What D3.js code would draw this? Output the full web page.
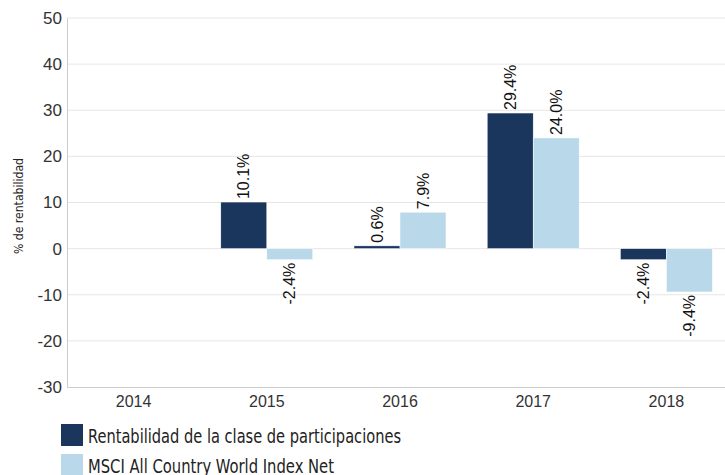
<!DOCTYPE html>
<html lang="es">
<head>
    <meta charset="UTF-8">
    <title>Rentabilidad</title>
    <script src="https://cdn.jsdelivr.net/npm/d3@7/dist/d3.min.js"></script>
    <style>
        body { margin: 0; background: #fff; }
        svg { display: block; }
    </style>
</head>
<body>
<script>
    // datos
    let years = ['2014', '2015', '2016', '2017', '2018'];
    let fund = [null, 10.1, 0.6, 29.4, -2.4];
    let index = [null, -2.4, 7.9, 24.0, -9.4];
    let yTicks = [-30, -20, -10, 0, 10, 20, 30, 40, 50];
    let seriesNames = ['Rentabilidad de la clase de participaciones', 'MSCI All Country World Index Net'];
    let colors = ['#1b365d', '#b9d9eb'];

    let width = 725, height = 475;
    let mLeft = 67, mRight = 733, mTop = 18, mBottom = 387;
    let legendWidths = [313, 246];
    let armo = 'Liberation Sans, Arial, sans-serif';
    let narrow = 'DejaVu Sans Condensed, Liberation Sans Narrow, sans-serif';

    let svg = d3.select('body').append('svg')
        .attr('width', width)
        .attr('height', height);

    let x = d3.scaleBand().domain(years).range([mLeft, mRight]);
    let x1 = d3.scaleBand().domain([0, 1]).range([0, 92]);
    let y = d3.scaleLinear().domain([-30, 50]).range([mBottom, mTop]);

    // rejilla
    svg.append('g').selectAll('line')
        .data(yTicks.filter(d => d !== -30))
        .enter().append('line')
        .attr('x1', mLeft).attr('x2', width)
        .attr('y1', d => y(d)).attr('y2', d => y(d))
        .attr('stroke', '#e6e6e6');

    // ejes
    let yAxis = svg.append('g')
        .attr('transform', 'translate(' + mLeft + ',0)')
        .call(d3.axisLeft(y).tickValues(yTicks).tickFormat(d => String(d)).tickSize(0).tickPadding(5));
    yAxis.select('.domain').attr('stroke', '#ccc');
    yAxis.selectAll('text')
        .attr('font-family', armo)
        .attr('font-size', 17).attr('fill', '#333');

    let xAxis = svg.append('g')
        .attr('transform', 'translate(0,' + mBottom + ')')
        .call(d3.axisBottom(x).tickSize(0).tickPadding(9));
    xAxis.select('.domain').attr('stroke', '#ccc');
    xAxis.selectAll('text')
        .attr('font-family', armo)
        .attr('font-size', 16).attr('fill', '#333');

    svg.append('text')
        .attr('transform', 'translate(23,206) rotate(-90)')
        .attr('text-anchor', 'middle')
        .attr('font-family', narrow)
        .attr('font-size', 12)
        .attr('fill', '#222')
        .attr('textLength', 96)
        .attr('lengthAdjust', 'spacingAndGlyphs')
        .text('% de rentabilidad');

    // barras
    let rows = [];
    years.forEach(function (yr, i) {
        [fund[i], index[i]].forEach(function (v, s) {
            if (v !== null) rows.push({ year: yr, s: s, v: v });
        });
    });

    let bx = d => x(d.year) + x.bandwidth() / 2 - 46 + x1(d.s);

    svg.append('g').selectAll('rect')
        .data(rows)
        .enter().append('rect')
        .attr('x', bx)
        .attr('y', d => y(Math.max(0, d.v)))
        .attr('width', x1.bandwidth())
        .attr('height', d => Math.abs(y(d.v) - y(0)))
        .attr('fill', d => colors[d.s])
        .attr('stroke', '#fff')
        .attr('stroke-width', 0.5);

    svg.append('g').selectAll('text')
        .data(rows)
        .enter().append('text')
        .attr('transform', function (d) {
            let cx = bx(d) + x1.bandwidth() / 2;
            let cy = d.v >= 0 ? y(d.v) - 3 : y(d.v) + 3;
            return 'translate(' + cx + ',' + cy + ') rotate(-90)';
        })
        .attr('text-anchor', d => d.v >= 0 ? 'start' : 'end')
        .attr('dy', '0.35em')
        .attr('font-family', armo)
        .attr('font-size', 16)
        .attr('fill', '#111')
        .text(d => d.v.toFixed(1) + '%');

    // leyenda
    let legend = svg.append('g').selectAll('g')
        .data(seriesNames)
        .enter().append('g')
        .attr('transform', (d, i) => 'translate(61,' + (424 + i * 30) + ')');
    legend.append('rect')
        .attr('width', 22).attr('height', 22)
        .attr('fill', (d, i) => colors[i]);
    legend.append('text')
        .attr('x', 27).attr('y', 19)
        .attr('font-family', narrow)
        .attr('font-size', 19)
        .attr('fill', '#222')
        .attr('textLength', (d, i) => legendWidths[i])
        .attr('lengthAdjust', 'spacingAndGlyphs')
        .text(d => d);
</script>
</body>
</html>
